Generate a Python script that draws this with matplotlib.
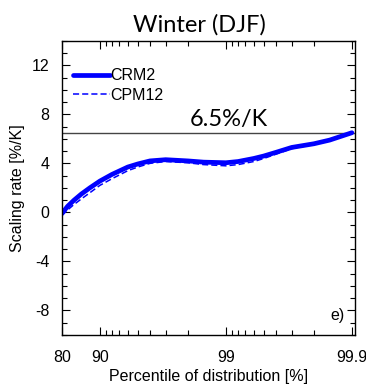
import numpy as np
import matplotlib
matplotlib.use("Agg")
import matplotlib.pyplot as plt
from matplotlib.ticker import FixedLocator, NullFormatter

plt.rcParams['font.family'] = ['Liberation Sans', 'DejaVu Sans']
plt.rcParams['axes.unicode_minus'] = False

# Data
pct = [80, 82, 84, 86, 88, 90, 92, 94, 95, 96, 97, 98, 98.5, 99,
       99.2, 99.4, 99.5, 99.6, 99.7, 99.8, 99.85, 99.9]
crm2 = [-0.1, 0.5, 1.0, 1.5, 2.0, 2.55, 3.1, 3.7, 3.95, 4.2, 4.3, 4.2, 4.1, 4.05,
        4.15, 4.4, 4.6, 4.9, 5.3, 5.6, 5.9, 6.5]
cpm12 = [-0.25, 0.2, 0.65, 1.1, 1.6, 2.2, 2.75, 3.4, 3.7, 4.0, 4.15, 4.05, 3.9, 3.8,
         3.9, 4.15, 4.4, 4.75, 5.2, 5.55, 5.9, 6.5]
ref_rate = 6.5
major_pct = [80, 90, 99, 99.9]
minor_pct = [91, 92, 93, 94, 95, 96, 97, 98, 99.1, 99.2, 99.3, 99.4, 99.5, 99.6, 99.7, 99.8]


def tx(p):
    return -np.log10(100 - np.asarray(p, dtype=float))


fig = plt.figure(figsize=(3.66, 3.85), dpi=100)
ax = fig.add_axes([0.169, 0.130, 0.801, 0.764])

ax.plot(tx(pct), crm2, color='#0000ff', lw=3.4, label='CRM2', solid_capstyle='round')
ax.plot(tx(pct), cpm12, color='#0000ff', lw=1.1, ls=(0, (4, 2)), label='CPM12')
ax.axhline(ref_rate, color='#444444', lw=1.0, zorder=1)
ax.text(tx(99.05), 6.7, '6.5%/K', fontsize=17, ha='center', va='bottom', family='Lato')

ax.set_xlim(tx(80), 1.025)
ax.set_ylim(-10, 14)

ax.xaxis.set_major_locator(FixedLocator(tx(major_pct)))
ax.set_xticklabels(['80', '90', '99', '99.9'])
ax.xaxis.set_minor_locator(FixedLocator(tx(minor_pct)))
ax.xaxis.set_minor_formatter(NullFormatter())
ax.set_yticks([-8, -4, 0, 4, 8, 12])
ax.set_yticks(np.arange(-10, 15, 1), minor=True)

ax.tick_params(which='both', direction='in', top=True, right=True, labelsize=11.5)
ax.tick_params(which='major', length=6, width=0.8)
ax.tick_params(axis='x', which='major', pad=11)
ax.tick_params(axis='y', which='major', pad=9)
ax.tick_params(which='minor', length=3.5, width=0.8)
for s in ax.spines.values():
    s.set_linewidth(1.0)

ax.set_xlabel('Percentile of distribution [%]', fontsize=11.5, labelpad=3)
ax.set_ylabel('Scaling rate [%/K]', fontsize=11.5, labelpad=5)
ax.set_title('Winter (DJF)', fontsize=17, pad=7, family='Lato', x=0.47)

ax.legend(loc='upper left', bbox_to_anchor=(0.0, 0.945), frameon=False, fontsize=11.5,
          handlelength=2.3, handletextpad=0.05, borderaxespad=0.3, labelspacing=0.3,
          borderpad=0.4)
ax.text(0.965, 0.04, 'e)', transform=ax.transAxes, ha='right', va='bottom', fontsize=11.5)

fig.savefig('out.png', dpi=100)
